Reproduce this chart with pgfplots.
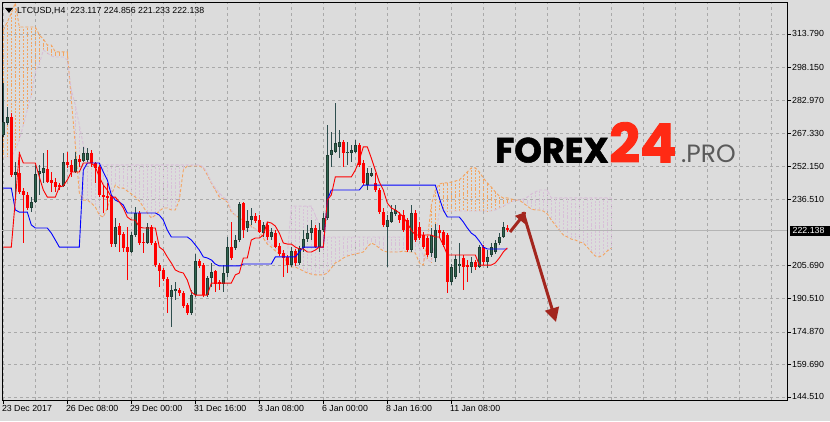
\documentclass[border=0pt]{standalone}
\usepackage{fontspec}
\setmainfont{Liberation Sans}
\newfontfamily\wmfont{Poppins}
\newfontfamily\wmheavy{Poppins}[BoldFeatures={FakeBold=1.6}]
\usepackage{pgfplots}
\pgfplotsset{compat=1.18}
\usepackage{pgfplotstable}
\usetikzlibrary{arrows.meta}

\definecolor{bg}{HTML}{DCDCDC}
\definecolor{gridc}{HTML}{A9A9A9}
\definecolor{bullbody}{HTML}{2E6350}
\definecolor{bulledge}{HTML}{1F3D32}
\definecolor{bullwick}{HTML}{2F4F4F}
\definecolor{spanA}{HTML}{F4A460}
\definecolor{spanB}{HTML}{D8BFD8}
\definecolor{pline}{HTML}{B4B4B4}
\definecolor{arrowc}{HTML}{A3261E}
\definecolor{brandred}{HTML}{FF2A14}
\definecolor{progray}{HTML}{5A5A5A}

% error-bar-only plots: the plot path itself stays invisible
\pgfplotsset{
  ebar/.style 2 args={mark=none, draw opacity=0, forget plot,
    error bars/.cd, y dir=both, y explicit, error mark=none,
    error bar style={draw opacity=1, #1, line width=#2}},
}

% LTCUSD H4 candles: index, open, high, low, close
\pgfplotstableread{
i o h l c
0 266.6 290.9 265.7 272.7
1 272.2 279.7 271.3 275.0
2 275.0 276.9 247.1 248.0
3 248.0 254.1 237.7 249.4
4 248.9 258.7 239.1 240.1
5 240.5 241.9 216.3 238.7
6 238.7 240.1 231.7 232.6
7 232.6 237.7 230.7 235.4
8 235.4 252.7 234.9 248.5
9 248.5 252.7 238.7 249.9
10 248.9 258.3 244.3 251.3
11 250.8 259.7 244.3 244.7
12 245.7 249.4 240.1 244.3
13 244.7 246.6 240.1 242.4
14 243.3 244.3 241.0 242.4
15 242.9 258.3 242.4 254.1
16 254.1 258.7 251.3 252.7
17 252.7 255.0 247.1 249.4
18 249.4 258.7 248.9 255.5
19 255.5 257.3 251.8 254.1
20 254.5 261.1 254.1 258.3
21 255.0 260.6 254.1 258.3
22 258.3 259.7 251.8 253.6
23 253.6 254.1 244.3 251.3
24 251.8 252.7 237.7 238.7
25 238.7 243.3 230.3 237.7
26 238.2 244.3 231.7 237.3
27 237.7 238.7 214.4 215.8
28 215.8 227.9 214.4 223.7
29 224.2 225.6 212.1 220.0
30 220.5 221.4 212.1 213.9
31 214.4 223.7 199.0 212.1
32 212.1 221.4 211.6 220.0
33 220.0 233.1 219.1 230.3
34 230.3 231.2 215.4 216.3
35 216.8 221.0 211.6 216.3
36 216.3 225.6 215.8 223.7
37 223.7 224.7 215.4 216.3
38 216.3 217.2 205.1 206.0
39 206.0 207.0 195.8 203.2
40 203.7 204.6 198.6 199.5
41 199.5 200.4 183.6 191.1
42 191.1 196.7 177.1 194.4
43 193.9 198.1 189.7 194.8
44 194.4 195.3 191.6 193.0
45 193.0 193.9 186.0 186.9
46 187.4 188.3 182.7 183.6
47 183.6 194.4 182.7 192.0
48 192.0 211.2 191.1 207.9
49 207.9 208.8 204.6 205.6
50 206.0 207.0 191.1 192.0
51 192.0 200.9 191.1 200.0
52 200.0 207.0 195.8 202.8
53 203.2 203.7 193.4 197.2
54 198.1 199.0 194.4 197.2
55 197.2 206.0 193.4 202.3
56 202.3 219.1 200.4 214.4
57 214.4 226.1 208.4 209.3
58 213.9 220.0 213.0 217.7
59 217.7 235.4 216.8 234.5
60 234.9 235.4 218.6 222.3
61 223.3 231.7 221.4 226.5
62 227.0 232.6 224.7 228.9
63 228.9 230.3 225.8 226.5
64 227.0 229.3 220.9 221.4
65 220.9 226.1 219.1 224.7
66 224.7 226.1 217.7 219.1
67 219.1 223.3 217.7 221.4
68 220.9 222.3 213.9 214.4
69 214.9 216.3 210.2 211.2
70 211.6 213.0 200.4 209.3
71 209.8 210.7 202.3 206.0
72 206.0 214.4 205.1 212.6
73 212.6 213.5 205.6 207.0
74 207.0 214.9 206.0 213.9
75 213.9 222.3 212.1 218.1
76 218.1 224.7 216.8 220.9
77 220.9 227.0 217.7 223.3
78 223.3 224.7 213.9 214.4
79 214.4 225.6 212.1 222.3
80 222.3 230.3 221.4 227.9
81 227.9 271.3 227.0 257.3
82 257.3 268.0 251.8 259.7
83 258.7 281.6 258.3 262.9
84 261.1 269.0 255.9 263.4
85 263.4 264.3 251.8 258.3
86 258.3 263.4 252.7 258.7
87 258.3 262.0 254.1 259.7
88 258.7 264.3 258.3 262.0
89 262.0 262.9 251.8 252.7
90 253.6 255.0 243.3 244.3
91 243.3 251.3 241.0 248.9
92 247.6 251.3 247.1 248.9
93 244.3 248.9 240.1 241.0
94 241.0 241.9 229.8 230.7
95 230.7 232.6 223.7 224.7
96 223.7 229.3 205.1 227.0
97 226.1 234.0 225.6 230.7
98 229.8 234.0 228.9 231.7
99 229.3 230.7 225.6 227.0
100 229.3 231.7 221.4 222.3
101 227.0 227.9 212.1 213.0
102 213.0 234.0 212.1 230.3
103 230.3 231.7 216.8 217.7
104 223.7 226.1 217.7 218.6
105 220.0 221.4 213.5 214.4
106 218.6 219.6 209.8 210.7
107 211.6 223.3 209.8 220.0
108 209.3 225.1 207.4 222.3
109 222.3 224.7 219.1 220.9
110 221.4 222.3 214.4 215.4
111 220.0 220.9 193.0 198.1
112 198.1 206.5 196.7 205.1
113 200.4 210.7 199.5 208.8
114 206.0 216.3 202.3 206.5
115 209.3 210.7 194.4 205.1
116 206.0 208.4 198.1 205.1
117 205.1 209.8 202.3 207.4
118 207.4 208.4 203.7 205.1
119 205.1 215.4 204.6 214.4
120 214.4 215.4 206.0 207.4
121 207.4 213.0 204.6 209.8
122 210.7 216.3 209.8 214.4
123 212.1 217.7 211.2 216.3
124 216.3 220.9 215.4 219.1
125 219.1 226.1 218.6 223.7
126 223.117 224.856 221.233 222.138
}\candles

% Tenkan-sen (t) and Kijun-sen (k)
\pgfplotstableread{
i t k
0 214.4 241.9
1 214.4 241.9
2 214.4 241.9
3 236.3 231.7
4 258.3 230.7
5 253.6 230.7
6 253.6 230.7
7 253.6 224.7
8 253.6 223.3
9 247.1 223.3
10 241.0 223.3
11 237.7 223.3
12 237.7 220.9
13 237.7 217.7
14 242.4 214.4
15 242.9 214.4
16 245.7 214.4
17 249.4 214.4
18 249.4 214.4
19 249.4 214.4
20 253.6 250.3
21 253.6 253.6
22 253.6 253.6
23 251.8 253.6
24 247.1 253.6
25 243.3 249.4
26 241.0 245.7
27 237.7 238.7
28 237.7 236.3
29 235.4 235.4
30 232.6 234.0
31 228.4 230.3
32 227.0 230.3
33 227.0 230.3
34 223.7 230.3
35 223.3 230.3
36 223.3 230.3
37 223.3 230.3
38 223.3 230.3
39 214.4 229.3
40 213.0 227.0
41 209.8 222.3
42 207.0 219.1
43 203.7 219.1
44 202.8 219.1
45 202.3 219.1
46 199.0 219.1
47 193.4 217.7
48 192.0 215.4
49 192.0 213.0
50 192.0 209.8
51 192.0 209.3
52 197.6 208.4
53 197.6 206.5
54 197.6 205.6
55 197.6 205.6
56 197.6 205.6
57 197.6 205.6
58 201.4 205.6
59 202.3 205.6
60 209.3 206.5
61 209.3 206.5
62 217.7 206.5
63 218.6 206.5
64 218.6 206.5
65 220.0 206.5
66 226.1 206.5
67 225.6 206.5
68 224.2 209.8
69 220.9 209.8
70 216.3 209.8
71 215.8 209.8
72 215.8 209.8
73 214.4 209.8
74 213.5 212.1
75 213.5 214.4
76 212.1 214.4
77 212.1 214.4
78 213.0 214.4
79 214.4 214.4
80 214.4 214.4
81 236.3 236.3
82 238.7 241.0
83 247.1 241.0
84 247.1 241.0
85 247.1 241.0
86 247.1 241.0
87 247.1 241.0
88 250.3 241.0
89 255.0 241.0
90 261.1 243.3
91 261.1 243.3
92 255.9 243.3
93 250.3 243.3
94 244.7 243.3
95 241.0 243.3
96 234.9 243.3
97 232.6 243.3
98 231.7 243.3
99 230.3 243.3
100 228.4 243.3
101 225.6 243.3
102 222.3 243.3
103 220.0 243.3
104 220.0 243.3
105 220.0 243.3
106 220.0 243.3
107 220.0 243.3
108 219.1 243.3
109 219.1 237.3
110 215.4 231.7
111 210.7 228.4
112 210.7 228.4
113 210.7 228.4
114 210.7 228.4
115 210.7 226.1
116 210.7 223.3
117 210.7 220.9
118 210.7 219.6
119 206.0 217.2
120 206.0 214.4
121 206.0 213.5
122 206.0 213.5
123 207.0 213.5
124 209.3 213.5
125 212.1 213.5
126 214.0 213.5
}\lines

% Senkou span A (a) and B (b), shifted 26 bars ahead
\pgfplotstableread{
i a b
0 315.6 256.4
1 319.3 256.4
2 323.5 256.4
3 328.2 259.7
4 317.0 264.3
5 317.0 271.3
6 317.0 278.3
7 317.0 285.3
8 317.0 296.0
9 313.3 299.7
10 311.4 306.3
11 308.6 304.9
12 308.6 303.5
13 305.4 303.0
14 305.4 303.0
15 305.4 303.0
16 305.4 301.6
17 283.0 287.6
18 262.0 280.6
19 239.6 271.3
20 236.3 262.0
21 236.3 255.0
22 234.9 252.7
23 233.1 252.7
24 229.3 252.7
25 228.4 252.7
26 232.6 252.7
27 238.7 252.7
28 243.3 252.7
29 241.9 252.7
30 241.9 252.7
31 240.5 252.7
32 239.1 252.7
33 237.7 252.7
34 235.9 252.7
35 233.1 252.7
36 230.3 252.7
37 227.9 252.7
38 229.3 252.7
39 231.2 252.7
40 232.6 252.7
41 232.6 252.7
42 231.7 252.7
43 231.7 252.7
44 236.3 252.7
45 250.3 252.7
46 252.2 252.7
47 252.2 252.7
48 252.2 252.7
49 252.2 252.7
50 251.3 251.8
51 248.0 248.9
52 244.3 244.7
53 241.0 241.9
54 237.7 239.6
55 236.8 237.7
56 235.4 236.3
57 230.7 231.7
58 229.3 229.3
59 227.9 227.9
60 227.0 226.5
61 225.6 225.1
62 224.2 223.7
63 222.8 222.8
64 221.4 221.9
65 218.6 220.9
66 215.8 217.7
67 214.4 215.8
68 212.6 213.9
69 211.2 213.0
70 210.2 212.1
71 207.0 210.7
72 205.1 233.5
73 205.1 233.5
74 204.2 233.5
75 203.2 233.5
76 202.3 233.5
77 201.8 233.5
78 201.4 229.3
79 201.4 224.7
80 201.4 219.1
81 202.3 219.1
82 204.6 219.1
83 207.0 219.1
84 207.9 219.1
85 209.3 219.1
86 210.2 219.1
87 210.7 219.1
88 211.2 219.1
89 211.6 219.1
90 212.1 219.1
91 214.4 219.1
92 216.3 219.1
93 215.4 219.1
94 213.9 219.1
95 212.6 219.1
96 212.1 219.1
97 212.1 219.1
98 212.1 219.1
99 212.1 219.1
100 212.6 219.1
101 212.1 219.1
102 212.1 219.1
103 211.6 219.1
104 207.0 214.4
105 206.0 210.7
106 217.7 208.4
107 234.0 207.4
108 241.0 217.7
109 243.8 231.2
110 244.3 231.2
111 244.3 231.2
112 244.7 231.2
113 245.2 231.2
114 245.7 231.2
115 247.5 231.2
116 249.4 231.2
117 251.3 231.2
118 251.3 231.2
119 249.4 231.2
120 246.6 231.2
121 244.3 231.2
122 242.4 231.2
123 240.1 231.7
124 238.2 232.6
125 237.3 233.5
126 237.3 234.5
127 236.8 235.4
128 236.3 236.3
129 236.3 236.3
130 234.9 236.8
131 233.5 237.7
132 232.1 239.1
133 231.7 240.1
134 231.7 241.0
135 231.2 241.0
136 229.8 241.0
137 227.0 237.3
138 224.7 237.3
139 222.3 237.3
140 220.0 237.3
141 219.1 237.3
142 218.1 237.3
143 217.7 237.3
144 216.8 237.3
145 216.3 237.3
146 214.4 237.3
147 212.1 237.3
148 210.2 237.3
149 209.8 237.3
150 210.7 237.3
151 212.6 237.3
152 213.9 237.3
}\cloud

\begin{document}
\begin{tikzpicture}
\path[use as bounding box] (0pt,0pt) rectangle (830pt,421pt);
\fill[bg] (0pt,0pt) rectangle (830pt,421pt);

\begin{axis}[
  at={(2pt,21pt)}, anchor=south west,
  scale only axis, width=785pt, height=398pt,
  xmin=-0.33, xmax=195.92, ymin=143.08, ymax=328.67,
  axis line style={black, line width=0.8pt},
  tick align=outside, major tick length=4pt, minor tick length=0pt,
  tick style={black, line width=0.6pt},
  xtick={0,16,...,112},
  xticklabels={23 Dec 2017, 26 Dec 08:00, 29 Dec 00:00, 31 Dec 16:00,
    3 Jan 08:00, 6 Jan 00:00, 8 Jan 16:00, 11 Jan 08:00},
  minor xtick={8,24,40,56,72,88,104,120,128,136,144,152,160,168,176,184,192},
  xtick pos=left,
  ytick={144.51,159.69,174.87,190.51,205.69,236.51,252.15,267.33,282.97,298.15,313.79},
  yticklabels={144.510,159.690,174.870,190.510,205.690,236.510,252.150,267.330,282.970,298.150,313.790},
  ytick pos=right, yticklabel pos=right,
  xmajorgrids, xminorgrids, ymajorgrids,
  major grid style={gridc, line width=0.6pt, dash pattern=on 3pt off 3pt},
  minor grid style={gridc, line width=0.6pt, dash pattern=on 3pt off 3pt},
  ticklabel style={font=\fontsize{8.8}{10}\selectfont, black},
  xticklabel style={anchor=north west, inner sep=0pt, xshift=-1.5pt, yshift=-1pt},
  yticklabel style={anchor=west, inner sep=0pt, xshift=1pt},
]

% cloud hatching: orange where span A is on top, thistle where span B is
\addplot[restrict expr to domain={\thisrow{a}-\thisrow{b}}{0:1000},
  ebar={spanA, dash pattern=on 2pt off 1.5pt}{0.9pt}]
  table[x=i, y expr={(\thisrow{a}+\thisrow{b})/2}, y error expr={abs(\thisrow{a}-\thisrow{b})/2}] {\cloud};
\addplot[restrict expr to domain={\thisrow{a}-\thisrow{b}}{-1000:-0.001},
  ebar={spanB, dash pattern=on 2pt off 1.5pt}{0.9pt}]
  table[x=i, y expr={(\thisrow{a}+\thisrow{b})/2}, y error expr={abs(\thisrow{a}-\thisrow{b})/2}] {\cloud};
\addplot[spanA, line width=0.9pt, dash pattern=on 3pt off 2pt] table[x=i, y=a] {\cloud};
\addplot[spanB, line width=0.9pt, dash pattern=on 3pt off 2pt] table[x=i, y=b] {\cloud};

% current price line
\draw[pline, line width=0.9pt] (axis cs:-0.33,222.138) -- (axis cs:195.92,222.138);

% wicks
\addplot[restrict expr to domain={\thisrow{c}-\thisrow{o}}{0:1000},
  ebar={bullwick}{0.9pt}]
  table[x=i, y expr={(\thisrow{h}+\thisrow{l})/2}, y error expr={(\thisrow{h}-\thisrow{l})/2}] {\candles};
\addplot[restrict expr to domain={\thisrow{c}-\thisrow{o}}{-1000:-0.0001},
  ebar={red}{0.9pt}]
  table[x=i, y expr={(\thisrow{h}+\thisrow{l})/2}, y error expr={(\thisrow{h}-\thisrow{l})/2}] {\candles};
% bodies
\addplot[restrict expr to domain={\thisrow{c}-\thisrow{o}}{0:1000},
  ebar={bulledge}{3.2pt}]
  table[x=i, y expr={(\thisrow{o}+\thisrow{c})/2}, y error expr={max(abs(\thisrow{c}-\thisrow{o})/2,0.35)}] {\candles};
\addplot[restrict expr to domain={\thisrow{c}-\thisrow{o}}{0:1000},
  ebar={bullbody}{1.6pt}]
  table[x=i, y expr={(\thisrow{o}+\thisrow{c})/2}, y error expr={max(abs(\thisrow{c}-\thisrow{o})/2-0.3,0.05)}] {\candles};
\addplot[restrict expr to domain={\thisrow{c}-\thisrow{o}}{-1000:-0.0001},
  ebar={red}{3.2pt}]
  table[x=i, y expr={(\thisrow{o}+\thisrow{c})/2}, y error expr={max(abs(\thisrow{c}-\thisrow{o})/2,0.35)}] {\candles};

% Kijun and Tenkan
\addplot[blue, line width=0.9pt, mark=none] table[x=i, y=k] {\lines};
\addplot[red, line width=0.9pt, mark=none] table[x=i, y=t] {\lines};
\end{axis}

% price box
\fill[black] (790pt,185pt) rectangle (830pt,195.5pt);
\node[anchor=west, inner sep=0pt, text=white, font=\fontsize{8.8}{10}\selectfont] at (792.5pt,190.3pt) {222.138};

% title
\fill[black] (5pt,413pt) -- (13pt,413pt) -- (9pt,408pt) -- cycle;
\node[anchor=base west, inner sep=0pt, font=\fontsize{8.8}{10}\selectfont] at (17pt,407pt) {LTCUSD,H4\ \ 223.117 224.856 221.233 222.138};

% watermark
\node[anchor=base west, inner sep=0pt, font=\wmheavy\bfseries\fontsize{35}{35}\selectfont] at (495pt,258.5pt) {FOREX};
\node[anchor=base west, inner sep=0pt, text=brandred, font=\wmheavy\bfseries\fontsize{54}{54}\selectfont] at (609pt,258.5pt) {24};
\node[anchor=base west, inner sep=0pt, text=progray, font=\wmfont\fontsize{25}{25}\selectfont] at (681pt,258.5pt) {.PRO};

% arrows
\draw[arrowc, line width=3pt, -{Triangle[length=10pt,width=12pt]}] (510pt,189pt) -- (526pt,209pt);
\draw[arrowc, line width=3pt, -{Triangle[length=14pt,width=14pt]}] (523pt,209pt) -- (556pt,99pt);
\end{tikzpicture}
\end{document}
